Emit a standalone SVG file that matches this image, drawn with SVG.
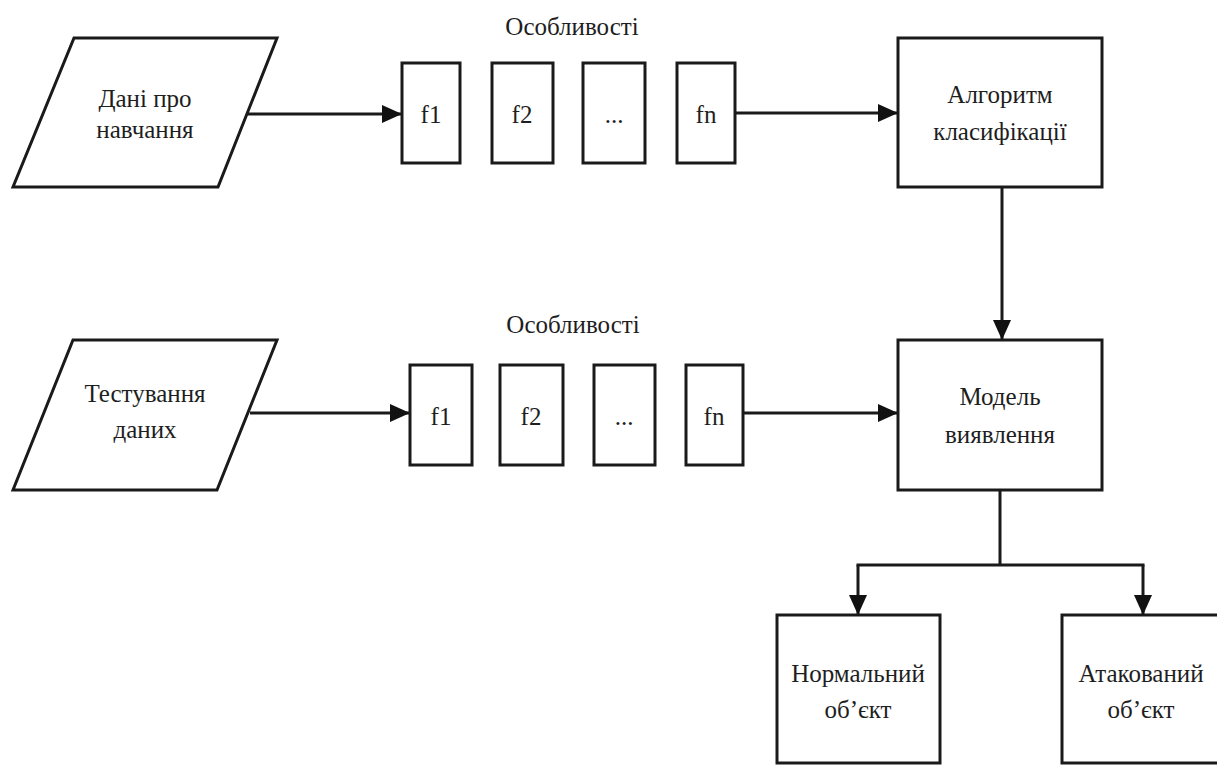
<svg xmlns="http://www.w3.org/2000/svg" width="1217" height="765" viewBox="0 0 1217 765">
<style>
.s{fill:#fff;stroke:#1a1a1a;stroke-width:3}
.c{fill:none;stroke:#1a1a1a;stroke-width:3}
.t{font-family:'Liberation Serif','Times New Roman',serif;font-size:25px;fill:#1e1e1e;text-anchor:middle}
</style>
<defs>
<marker id="ah" markerWidth="20" markerHeight="18" refX="20" refY="9" orient="auto" markerUnits="userSpaceOnUse">
<path d="M0,0 L20,9 L0,18 Z" fill="#111"/>
</marker>
</defs>
<rect width="1217" height="765" fill="#fff"/>
<g id="connectors">
<line class="c" x1="248" y1="114" x2="402" y2="114" marker-end="url(#ah)"/>
<line class="c" x1="735" y1="113" x2="898" y2="113" marker-end="url(#ah)"/>
<line class="c" x1="1002" y1="187" x2="1002" y2="340" marker-end="url(#ah)"/>
<line class="c" x1="250" y1="413" x2="410" y2="413" marker-end="url(#ah)"/>
<line class="c" x1="743" y1="413" x2="898" y2="413" marker-end="url(#ah)"/>
<line class="c" x1="1000" y1="490" x2="1000" y2="565"/>
<line class="c" x1="856.5" y1="565" x2="1144.5" y2="565"/>
<line class="c" x1="858" y1="565" x2="858" y2="615" marker-end="url(#ah)"/>
<line class="c" x1="1143" y1="565" x2="1143" y2="615" marker-end="url(#ah)"/>
</g>
<g id="label-features-1"><text class="t" x="572" y="35">Особливості</text></g>
<g id="label-features-2"><text class="t" x="573" y="333">Особливості</text></g>
<g id="train-data">
<polygon class="s" points="74,38 277,38 218,187 13,187"/>
<text class="t" x="145" y="107">Дані про</text>
<text class="t" x="145" y="138">навчання</text>
</g>
<g id="f1-a"><rect class="s" x="402" y="63" width="58" height="100"/><text class="t" x="431" y="123">f1</text></g>
<g id="f2-a"><rect class="s" x="492" y="63" width="61" height="100"/><text class="t" x="522" y="123">f2</text></g>
<g id="dots-a"><rect class="s" x="583" y="63" width="62" height="100"/><text class="t" x="614" y="123">...</text></g>
<g id="fn-a"><rect class="s" x="677" y="63" width="58" height="100"/><text class="t" x="706" y="123">fn</text></g>
<g id="algorithm">
<rect class="s" x="898" y="38" width="204" height="149"/>
<text class="t" x="1000" y="103">Алгоритм</text>
<text class="t" x="1000" y="140">класифікації</text>
</g>
<g id="test-data">
<polygon class="s" points="73,340 277,340 217,490 13,490"/>
<text class="t" x="145" y="402">Тестування</text>
<text class="t" x="145" y="438">даних</text>
</g>
<g id="f1-b"><rect class="s" x="410" y="365" width="62" height="100"/><text class="t" x="441" y="425">f1</text></g>
<g id="f2-b"><rect class="s" x="500" y="365" width="63" height="100"/><text class="t" x="531" y="425">f2</text></g>
<g id="dots-b"><rect class="s" x="594" y="365" width="61" height="100"/><text class="t" x="624" y="425">...</text></g>
<g id="fn-b"><rect class="s" x="686" y="365" width="57" height="100"/><text class="t" x="714" y="425">fn</text></g>
<g id="model">
<rect class="s" x="898" y="340" width="204" height="150"/>
<text class="t" x="1000" y="405">Модель</text>
<text class="t" x="1000" y="443">виявлення</text>
</g>
<g id="normal">
<rect class="s" x="777" y="615" width="163" height="148"/>
<text class="t" x="858" y="682">Нормальний</text>
<text class="t" x="858" y="718">об’єкт</text>
</g>
<g id="attacked">
<rect class="s" x="1062" y="615" width="163" height="148"/>
<text class="t" x="1141" y="682">Атакований</text>
<text class="t" x="1141" y="718">об’єкт</text>
</g>
</svg>
